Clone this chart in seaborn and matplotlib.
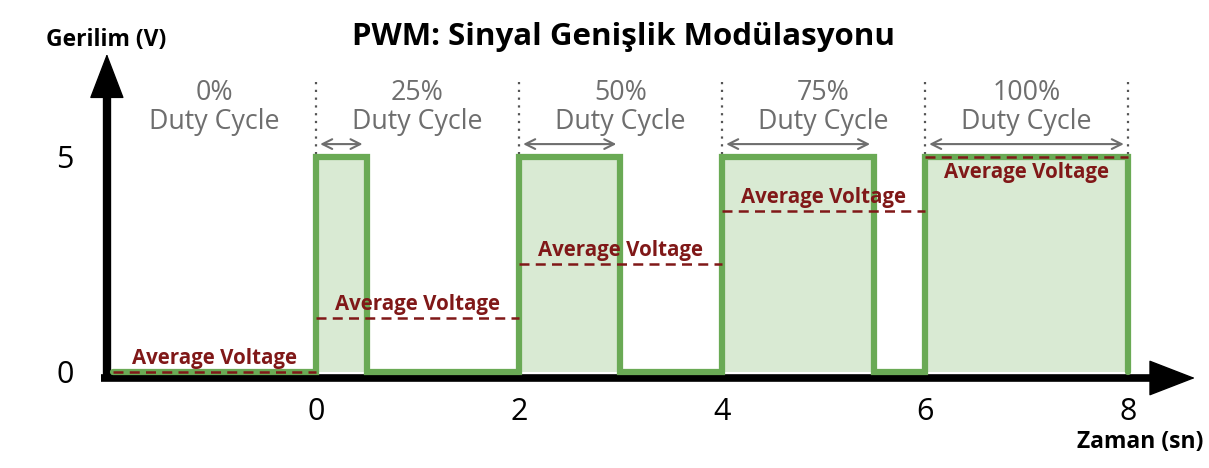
# %% Imports
import numpy as np
import matplotlib.pyplot as plt
import seaborn as sns

# %% data
duty_labels = ["0%", "25%", "50%", "75%", "100%"]
period_start = [-2, 0, 2, 4, 6]
period_end = [0, 2, 4, 6, 8]
high_time = [0, 0.5, 1.0, 1.5, 2.0]
avg_voltage = [0, 1.25, 2.5, 3.75, 5]

# PWM waveform (time in sn, voltage in V)
time = [-2, 0, 0, 0.5, 0.5, 2, 2, 3, 3, 4, 4, 5.5, 5.5, 6, 6, 8, 8]
volt = [0, 0, 5, 5, 0, 0, 5, 5, 0, 0, 5, 5, 0, 0, 5, 5, 0]

x_ticks = [0, 2, 4, 6, 8]
y_ticks = [0, 5]

GREEN = "#6aaa55"
FILL = "#d9ead3"
RED = "#801818"
GRAY = "#6e6e6e"

# %% style
sns.set_style("white")
plt.rcParams["font.family"] = ["Open Sans", "DejaVu Sans"]
plt.rcParams["text.color"] = "black"
plt.rcParams["xtick.color"] = "black"
plt.rcParams["ytick.color"] = "black"

fig = plt.figure(figsize=(12.09, 4.68), dpi=100)
ax = fig.add_axes([0, 0, 1, 1])
ax.set_xlim(-3.113, 8.798)
ax.set_ylim(-2.233, 8.651)

# signal
ax.fill_between(time, volt, 0, color=FILL, lw=0, zorder=1)
sns.lineplot(x=time, y=volt, estimator=None, sort=False, color=GREEN, lw=4.5, ax=ax, zorder=3)
for ln in ax.get_lines():
    ln.set_solid_joinstyle("miter")

# period borders
ax.vlines(period_end, 0, 6.8, colors="#555555", linestyles=(0, (1, 2.5)), lw=1.6, zorder=2)

# average voltage lines + labels
ax.hlines(avg_voltage, period_start, period_end, colors=RED, linestyles=(0, (4, 2.5)), lw=1.8, zorder=4)
for s, e, a in zip(period_start, period_end, avg_voltage):
    mid = (s + e) / 2
    if a < 5:
        ax.text(mid, a + 0.19, "Average Voltage", ha="center", va="baseline",
                fontsize=14.8, weight="bold", color=RED, zorder=5)
    else:
        ax.text(mid, a - 0.12, "Average Voltage", ha="center", va="top",
                fontsize=14.8, weight="bold", color=RED, zorder=5)

# duty cycle labels + width arrows
for s, e, h, d in zip(period_start, period_end, high_time, duty_labels):
    ax.text((s + e) / 2, 6.16, f"{d}\nDuty Cycle", ha="center", va="center",
            fontsize=19.3, color=GRAY, linespacing=1.05)
    if h > 0:
        ax.annotate("", xy=(s + h, 5.3), xytext=(s, 5.3),
                    arrowprops=dict(arrowstyle="<->,head_length=0.7,head_width=0.35",
                                    color=GRAY, lw=1.5, shrinkA=3, shrinkB=3))

# axes with arrows
for side in ["top", "right"]:
    ax.spines[side].set_visible(False)
ax.spines["left"].set_position(("data", -2.06))
ax.spines["left"].set_bounds(-0.22, 7.0)
ax.spines["left"].set_linewidth(6)
ax.spines["bottom"].set_position(("data", -0.14))
ax.spines["bottom"].set_bounds(-2.12, 8.3)
ax.spines["bottom"].set_linewidth(5.5)
for side in ["left", "bottom"]:
    ax.spines[side].set_color("black")
    ax.spines[side].set_capstyle("butt")

ax.annotate("", xy=(-2.06, 7.4), xytext=(-2.06, 6.8),
            arrowprops=dict(arrowstyle="-|>,head_length=3,head_width=1.15",
                            color="black", lw=1, shrinkA=0, shrinkB=0))
ax.annotate("", xy=(8.66, -0.14), xytext=(8.2, -0.14),
            arrowprops=dict(arrowstyle="-|>,head_length=3.1,head_width=1.2",
                            color="black", lw=1, shrinkA=0, shrinkB=0))

ax.set_xticks(x_ticks)
ax.set_yticks(y_ticks)
ax.tick_params(axis="x", length=11, width=3, pad=3, labelsize=22, direction="out")
ax.tick_params(axis="y", length=16, width=2, pad=8, labelsize=22, direction="out")
ax.grid(False)

# titles
fig.text(624 / 1209, 1 - 37 / 468, "PWM: Sinyal Genişlik Modülasyonu",
         ha="center", va="center", fontsize=22.5, weight="bold")
fig.text(106 / 1209, 1 - 40 / 468, "Gerilim (V)", ha="center", va="center",
         fontsize=16.5, weight="bold")
fig.text(1140 / 1209, 1 - 442 / 468, "Zaman (sn)", ha="center", va="center",
         fontsize=16.5, weight="bold")

fig.savefig("out.png", dpi=100)
